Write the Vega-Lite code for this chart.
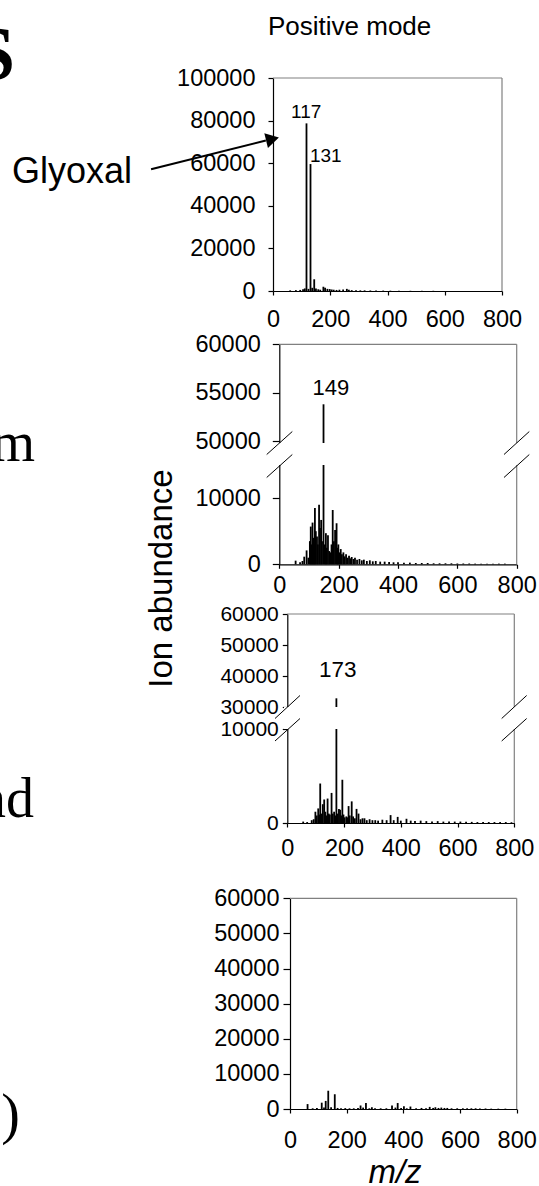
{
  "$schema": "https://vega.github.io/schema/vega-lite/v6.json",
  "width": 539,
  "height": 1186,
  "autosize": "none",
  "padding": 0,
  "background": "white",
  "config": {
    "view": {"stroke": null},
    "axis": {
      "domainColor": "black", "tickColor": "black", "labelColor": "black",
      "labelFont": "Liberation Sans", "labelFontSize": 23.5, "grid": false,
      "labelFlush": false, "labelOverlap": false, "domainWidth": 1.2, "tickWidth": 1.2,
      "zindex": 0, "title": null
    }
  },
  "datasets": {
    "p1": [
      {"mz": 60, "ab": 300}, {"mz": 80, "ab": 400}, {"mz": 95, "ab": 500}, {"mz": 105, "ab": 800},
      {"mz": 111, "ab": 1200}, {"mz": 117, "ab": 78700}, {"mz": 124, "ab": 1000}, {"mz": 131, "ab": 59600},
      {"mz": 137, "ab": 1500}, {"mz": 144, "ab": 5500}, {"mz": 150, "ab": 1200}, {"mz": 158, "ab": 800},
      {"mz": 165, "ab": 600}, {"mz": 176, "ab": 2000}, {"mz": 182, "ab": 1500}, {"mz": 190, "ab": 1000},
      {"mz": 198, "ab": 900}, {"mz": 205, "ab": 700}, {"mz": 212, "ab": 600}, {"mz": 222, "ab": 500},
      {"mz": 232, "ab": 600}, {"mz": 245, "ab": 700}, {"mz": 258, "ab": 1000}, {"mz": 265, "ab": 600},
      {"mz": 275, "ab": 400}, {"mz": 290, "ab": 400}, {"mz": 305, "ab": 300}, {"mz": 320, "ab": 300},
      {"mz": 340, "ab": 250}, {"mz": 360, "ab": 200}, {"mz": 385, "ab": 200}, {"mz": 410, "ab": 150},
      {"mz": 440, "ab": 150}, {"mz": 480, "ab": 100}, {"mz": 520, "ab": 100}, {"mz": 560, "ab": 100}
    ],
    "p2": [
      {"mz": 55, "ab": 550}, {"mz": 70, "ab": 300}, {"mz": 78, "ab": 500}, {"mz": 84, "ab": 1150},
      {"mz": 92, "ab": 2100}, {"mz": 98, "ab": 1000}, {"mz": 103, "ab": 3500}, {"mz": 106, "ab": 5700},
      {"mz": 109, "ab": 3000}, {"mz": 112, "ab": 6300}, {"mz": 115, "ab": 4000}, {"mz": 118, "ab": 3000},
      {"mz": 120, "ab": 8500}, {"mz": 123, "ab": 5000}, {"mz": 127, "ab": 4200}, {"mz": 130, "ab": 3000},
      {"mz": 134, "ab": 9000}, {"mz": 137, "ab": 5500}, {"mz": 141, "ab": 6700}, {"mz": 144, "ab": 3500},
      {"mz": 149, "ab": 53800}, {"mz": 153, "ab": 3000}, {"mz": 157, "ab": 4700}, {"mz": 160, "ab": 2500},
      {"mz": 164, "ab": 4400}, {"mz": 168, "ab": 2000}, {"mz": 172, "ab": 1800}, {"mz": 176, "ab": 3000},
      {"mz": 180, "ab": 8200}, {"mz": 184, "ab": 3500}, {"mz": 188, "ab": 5200}, {"mz": 193, "ab": 6200},
      {"mz": 196, "ab": 2500}, {"mz": 199, "ab": 3000}, {"mz": 203, "ab": 1800}, {"mz": 207, "ab": 2300},
      {"mz": 211, "ab": 1500}, {"mz": 216, "ab": 1800}, {"mz": 220, "ab": 1200}, {"mz": 225, "ab": 1500},
      {"mz": 230, "ab": 1000}, {"mz": 235, "ab": 1300}, {"mz": 240, "ab": 900}, {"mz": 244, "ab": 1100},
      {"mz": 250, "ab": 800}, {"mz": 255, "ab": 1000}, {"mz": 262, "ab": 700}, {"mz": 270, "ab": 800},
      {"mz": 278, "ab": 600}, {"mz": 285, "ab": 700}, {"mz": 295, "ab": 500}, {"mz": 305, "ab": 600},
      {"mz": 315, "ab": 450}, {"mz": 325, "ab": 500}, {"mz": 340, "ab": 400}, {"mz": 355, "ab": 400},
      {"mz": 370, "ab": 350}, {"mz": 385, "ab": 300}, {"mz": 400, "ab": 300}, {"mz": 420, "ab": 250},
      {"mz": 440, "ab": 250}, {"mz": 460, "ab": 200}, {"mz": 480, "ab": 200}, {"mz": 500, "ab": 200},
      {"mz": 520, "ab": 150}, {"mz": 540, "ab": 150}, {"mz": 560, "ab": 150}, {"mz": 580, "ab": 150},
      {"mz": 600, "ab": 120}, {"mz": 620, "ab": 120}, {"mz": 640, "ab": 120}, {"mz": 660, "ab": 100},
      {"mz": 680, "ab": 100}, {"mz": 700, "ab": 100}, {"mz": 720, "ab": 100}, {"mz": 740, "ab": 100},
      {"mz": 760, "ab": 100}
    ],
    "p3": [
      {"mz": 56, "ab": 150}, {"mz": 70, "ab": 100}, {"mz": 86, "ab": 300}, {"mz": 93, "ab": 400},
      {"mz": 99, "ab": 1200}, {"mz": 104, "ab": 800}, {"mz": 109, "ab": 1550}, {"mz": 113, "ab": 900},
      {"mz": 116, "ab": 4200}, {"mz": 120, "ab": 1000}, {"mz": 125, "ab": 2000}, {"mz": 130, "ab": 2500},
      {"mz": 134, "ab": 1200}, {"mz": 138, "ab": 800}, {"mz": 142, "ab": 2600}, {"mz": 146, "ab": 1000},
      {"mz": 150, "ab": 900}, {"mz": 156, "ab": 3200}, {"mz": 160, "ab": 1000}, {"mz": 165, "ab": 1200},
      {"mz": 169, "ab": 800}, {"mz": 173, "ab": 32800}, {"mz": 177, "ab": 1000}, {"mz": 182, "ab": 1500},
      {"mz": 186, "ab": 1400}, {"mz": 190, "ab": 800}, {"mz": 194, "ab": 4600}, {"mz": 198, "ab": 900},
      {"mz": 202, "ab": 600}, {"mz": 208, "ab": 700}, {"mz": 212, "ab": 600}, {"mz": 216, "ab": 1800},
      {"mz": 220, "ab": 800}, {"mz": 227, "ab": 2300}, {"mz": 232, "ab": 700}, {"mz": 238, "ab": 500},
      {"mz": 244, "ab": 1500}, {"mz": 251, "ab": 1000}, {"mz": 258, "ab": 400}, {"mz": 265, "ab": 500},
      {"mz": 272, "ab": 500}, {"mz": 280, "ab": 300}, {"mz": 290, "ab": 400}, {"mz": 300, "ab": 300},
      {"mz": 310, "ab": 300}, {"mz": 320, "ab": 250}, {"mz": 335, "ab": 350}, {"mz": 350, "ab": 300},
      {"mz": 364, "ab": 840}, {"mz": 375, "ab": 300}, {"mz": 389, "ab": 650}, {"mz": 400, "ab": 250},
      {"mz": 420, "ab": 450}, {"mz": 435, "ab": 250}, {"mz": 450, "ab": 200}, {"mz": 470, "ab": 250},
      {"mz": 490, "ab": 200}, {"mz": 510, "ab": 150}, {"mz": 530, "ab": 200}, {"mz": 550, "ab": 150},
      {"mz": 570, "ab": 150}, {"mz": 590, "ab": 150}, {"mz": 610, "ab": 150}, {"mz": 630, "ab": 120},
      {"mz": 650, "ab": 120}, {"mz": 670, "ab": 100}, {"mz": 690, "ab": 100}, {"mz": 710, "ab": 100},
      {"mz": 730, "ab": 100}, {"mz": 750, "ab": 100}, {"mz": 770, "ab": 100}, {"mz": 790, "ab": 80}
    ],
    "p4": [
      {"mz": 62, "ab": 1400}, {"mz": 80, "ab": 200}, {"mz": 95, "ab": 300}, {"mz": 112, "ab": 1800},
      {"mz": 120, "ab": 400}, {"mz": 126, "ab": 2300}, {"mz": 135, "ab": 5200}, {"mz": 145, "ab": 500},
      {"mz": 158, "ab": 4200}, {"mz": 168, "ab": 300}, {"mz": 180, "ab": 200}, {"mz": 195, "ab": 250},
      {"mz": 210, "ab": 200}, {"mz": 225, "ab": 200}, {"mz": 240, "ab": 300}, {"mz": 249, "ab": 1000},
      {"mz": 258, "ab": 400}, {"mz": 268, "ab": 1700}, {"mz": 280, "ab": 200}, {"mz": 289, "ab": 500},
      {"mz": 300, "ab": 200}, {"mz": 320, "ab": 200}, {"mz": 340, "ab": 200}, {"mz": 360, "ab": 1000},
      {"mz": 372, "ab": 400}, {"mz": 380, "ab": 1700}, {"mz": 392, "ab": 300}, {"mz": 402, "ab": 800},
      {"mz": 412, "ab": 200}, {"mz": 425, "ab": 700}, {"mz": 445, "ab": 200}, {"mz": 464, "ab": 300},
      {"mz": 480, "ab": 200}, {"mz": 493, "ab": 600}, {"mz": 505, "ab": 300}, {"mz": 513, "ab": 500},
      {"mz": 524, "ab": 300}, {"mz": 534, "ab": 400}, {"mz": 545, "ab": 300}, {"mz": 555, "ab": 300},
      {"mz": 570, "ab": 200}, {"mz": 590, "ab": 200}, {"mz": 610, "ab": 200}, {"mz": 625, "ab": 200},
      {"mz": 640, "ab": 200}, {"mz": 655, "ab": 200}, {"mz": 670, "ab": 150}, {"mz": 690, "ab": 150},
      {"mz": 710, "ab": 100}, {"mz": 735, "ab": 100}, {"mz": 760, "ab": 100}
    ]
  },
  "layer": [
    {
      "data": {"name": "p1"},
      "layer": [
        {
          "mark": {"type": "rule", "color": "black", "strokeWidth": 1.8},
          "encoding": {
            "x": {"field": "mz", "type": "quantitative",
              "scale": {"domain": [0, 800], "range": [273, 502], "nice": false, "zero": false},
              "axis": {"orient": "bottom", "offset": -895, "values": [0, 200, 400, 600, 800], "format": "d", "tickSize": 4, "labelPadding": 12, "title": null}},
            "y": {"field": "ab", "type": "quantitative",
              "scale": {"domain": [0, 100000], "range": [291, 78], "nice": false, "zero": false},
              "axis": {"orient": "left", "offset": -273, "values": [0, 20000, 40000, 60000, 80000, 100000], "format": "d", "tickSize": 5, "labelPadding": 13, "title": null}},
            "y2": {"datum": 0}
          }
        },
        {"data": {"values": [{}]}, "mark": {"type": "rule", "color": "#808080", "strokeWidth": 1.2},
         "encoding": {"x": {"datum": 0}, "x2": {"datum": 800}, "y": {"datum": 100000}}},
        {"data": {"values": [{}]}, "mark": {"type": "rule", "color": "#808080", "strokeWidth": 1.2},
         "encoding": {"x": {"datum": 800}, "y": {"datum": 0}, "y2": {"datum": 100000}}},
        {"data": {"values": [{}]}, "mark": {"type": "text", "font": "Liberation Sans", "fontSize": 19, "align": "center", "baseline": "alphabetic", "color": "black"},
         "encoding": {"x": {"datum": 116}, "y": {"datum": 81080}, "text": {"value": "117"}}},
        {"data": {"values": [{}]}, "mark": {"type": "text", "font": "Liberation Sans", "fontSize": 19, "align": "left", "baseline": "alphabetic", "color": "black"},
         "encoding": {"x": {"datum": 129}, "y": {"datum": 60700}, "text": {"value": "131"}}},
        {"data": {"values": [{}]}, "mark": {"type": "text", "font": "Liberation Sans", "fontSize": 26, "align": "left", "baseline": "alphabetic", "color": "black"},
         "encoding": {"x": {"datum": -17.5}, "y": {"datum": 120000}, "text": {"value": "Positive mode"}}},
        {"data": {"values": [{}]}, "mark": {"type": "text", "font": "Liberation Sans", "fontSize": 36, "align": "left", "baseline": "alphabetic", "color": "black"},
         "encoding": {"x": {"datum": -912}, "y": {"datum": 50566}, "text": {"value": "Glyoxal"}}},
        {"data": {"values": [{}]}, "mark": {"type": "rule", "color": "black", "strokeWidth": 2},
         "encoding": {"x": {"datum": -426}, "y": {"datum": 57140}, "x2": {"datum": -25}, "y2": {"datum": 70660}}},
        {"data": {"values": [{}]}, "mark": {"type": "point", "shape": "triangle-right", "filled": true, "color": "black", "size": 230, "angle": 346.2, "opacity": 1},
         "encoding": {"x": {"datum": -1.7}, "y": {"datum": 71318}}},
        {"data": {"values": [{}]}, "mark": {"type": "text", "font": "Liberation Serif", "fontWeight": "bold", "fontSize": 76, "align": "right", "baseline": "alphabetic", "color": "black", "clip": true},
         "encoding": {"x": {"datum": -901}, "y": {"datum": 99534}, "text": {"value": "S"}}}
      ]
    },
    {
      "data": {"name": "p2"},
      "layer": [
        {
          "mark": {"type": "rule", "color": "black", "strokeWidth": 1.8},
          "encoding": {
            "x": {"field": "mz", "type": "quantitative",
              "scale": {"domain": [0, 800], "range": [279.3, 516.7], "nice": false, "zero": false},
              "axis": {"orient": "bottom", "offset": -621.7, "values": [0, 200, 400, 600, 800], "format": "d", "tickSize": 4, "labelPadding": 5, "title": null}},
            "y": {"field": "ab", "type": "quantitative",
              "scale": {"domain": [0, 15000, 49800, 60000], "range": [564.3, 465, 443, 344.3], "nice": false, "zero": false},
              "axis": {"orient": "left", "offset": -279.3, "values": [0, 10000, 50000, 55000, 60000], "format": "d", "tickSize": 7, "labelPadding": 12, "title": null}},
            "y2": {"datum": 0}
          }
        },
        {"data": {"values": [{}]}, "mark": {"type": "rule", "color": "#808080", "strokeWidth": 1.2},
         "encoding": {"x": {"datum": 0}, "x2": {"datum": 800}, "y": {"datum": 60000}}},
        {"data": {"values": [{}]}, "mark": {"type": "rule", "color": "#808080", "strokeWidth": 1.2},
         "encoding": {"x": {"datum": 800}, "y": {"datum": 0}, "y2": {"datum": 60000}}},
        {"data": {"values": [{}]}, "mark": {"type": "rect", "color": "white"},
         "encoding": {"x": {"datum": -11}, "x2": {"datum": 811}, "y": {"datum": 15000}, "y2": {"datum": 49800}}},
        {"data": {"values": [{}]}, "mark": {"type": "rule", "color": "black", "strokeWidth": 1},
         "encoding": {"x": {"datum": -42.5}, "y": {"datum": 31609}, "x2": {"datum": 43.8}, "y2": {"datum": 50988}}},
        {"data": {"values": [{}]}, "mark": {"type": "rule", "color": "black", "strokeWidth": 1},
         "encoding": {"x": {"datum": -42.5}, "y": {"datum": 13112}, "x2": {"datum": 43.8}, "y2": {"datum": 31609}}},
        {"data": {"values": [{}]}, "mark": {"type": "rule", "color": "black", "strokeWidth": 1},
         "encoding": {"x": {"datum": 757.2}, "y": {"datum": 31609}, "x2": {"datum": 842.5}, "y2": {"datum": 50988}}},
        {"data": {"values": [{}]}, "mark": {"type": "rule", "color": "black", "strokeWidth": 1},
         "encoding": {"x": {"datum": 757.2}, "y": {"datum": 13112}, "x2": {"datum": 842.5}, "y2": {"datum": 31609}}},
        {"data": {"values": [{}]}, "mark": {"type": "text", "font": "Liberation Sans", "fontSize": 22, "align": "center", "baseline": "alphabetic", "color": "black"},
         "encoding": {"x": {"datum": 173.6}, "y": {"datum": 54760}, "text": {"value": "149"}}},
        {"data": {"values": [{}]}, "mark": {"type": "text", "font": "Liberation Serif", "fontSize": 56, "align": "right", "baseline": "alphabetic", "color": "black", "clip": true},
         "encoding": {"x": {"datum": -823}, "y": {"datum": 21327}, "text": {"value": "m"}}},
        {"data": {"values": [{}]}, "mark": {"type": "text", "font": "Liberation Sans", "fontSize": 33, "align": "center", "baseline": "alphabetic", "angle": 270, "color": "black"},
         "encoding": {"x": {"datum": -361.6}, "y": {"datum": -2145}, "text": {"value": "Ion abundance"}}}
      ]
    },
    {
      "data": {"name": "p3"},
      "layer": [
        {
          "mark": {"type": "rule", "color": "black", "strokeWidth": 1.8},
          "encoding": {
            "x": {"field": "mz", "type": "quantitative",
              "scale": {"domain": [0, 800], "range": [287.3, 514.3], "nice": false, "zero": false},
              "axis": {"orient": "bottom", "offset": -363, "values": [0, 200, 400, 600, 800], "format": "d", "tickSize": 4, "labelPadding": 9, "title": null}},
            "y": {"field": "ab", "type": "quantitative",
              "scale": {"domain": [0, 10000, 30000, 60000], "range": [823, 729, 707, 614], "nice": false, "zero": false},
              "axis": {"orient": "left", "offset": -287.3, "values": [0, 10000, 30000, 40000, 50000, 60000], "format": "d", "tickSize": 5, "labelPadding": 4, "labelFontSize": 21, "title": null}},
            "y2": {"datum": 0}
          }
        },
        {"data": {"values": [{}]}, "mark": {"type": "rule", "color": "#808080", "strokeWidth": 1.2},
         "encoding": {"x": {"datum": 0}, "x2": {"datum": 800}, "y": {"datum": 60000}}},
        {"data": {"values": [{}]}, "mark": {"type": "rule", "color": "#808080", "strokeWidth": 1.2},
         "encoding": {"x": {"datum": 800}, "y": {"datum": 0}, "y2": {"datum": 60000}}},
        {"data": {"values": [{}]}, "mark": {"type": "rect", "color": "white"},
         "encoding": {"x": {"datum": -11.6}, "x2": {"datum": 811}, "y": {"datum": 10000}, "y2": {"datum": 30000}}},
        {"data": {"values": [{}]}, "mark": {"type": "rule", "color": "black", "strokeWidth": 1},
         "encoding": {"x": {"datum": -43.3}, "y": {"datum": 19545}, "x2": {"datum": 44.8}, "y2": {"datum": 33710}}},
        {"data": {"values": [{}]}, "mark": {"type": "rule", "color": "black", "strokeWidth": 1},
         "encoding": {"x": {"datum": -43.3}, "y": {"datum": 8723}, "x2": {"datum": 44.8}, "y2": {"datum": 19545}}},
        {"data": {"values": [{}]}, "mark": {"type": "rule", "color": "black", "strokeWidth": 1},
         "encoding": {"x": {"datum": 755.5}, "y": {"datum": 19545}, "x2": {"datum": 843.6}, "y2": {"datum": 33710}}},
        {"data": {"values": [{}]}, "mark": {"type": "rule", "color": "black", "strokeWidth": 1},
         "encoding": {"x": {"datum": 755.5}, "y": {"datum": 8723}, "x2": {"datum": 843.6}, "y2": {"datum": 19545}}},
        {"data": {"values": [{}]}, "mark": {"type": "text", "font": "Liberation Sans", "fontSize": 22.5, "align": "center", "baseline": "alphabetic", "color": "black"},
         "encoding": {"x": {"datum": 178}, "y": {"datum": 39775}, "text": {"value": "173"}}},
        {"data": {"values": [{}]}, "mark": {"type": "text", "font": "Liberation Serif", "fontSize": 56, "align": "right", "baseline": "alphabetic", "color": "black", "clip": true},
         "encoding": {"x": {"datum": -892.6}, "y": {"datum": 670}, "text": {"value": "nd"}}}
      ]
    },
    {
      "data": {"name": "p4"},
      "layer": [
        {
          "mark": {"type": "rule", "color": "black", "strokeWidth": 1.8},
          "encoding": {
            "x": {"field": "mz", "type": "quantitative",
              "scale": {"domain": [0, 800], "range": [290, 516.7], "nice": false, "zero": false},
              "axis": {"orient": "bottom", "offset": -77, "values": [0, 200, 400, 600, 800], "format": "d", "tickSize": 4, "labelPadding": 15, "title": null}},
            "y": {"field": "ab", "type": "quantitative",
              "scale": {"domain": [0, 60000], "range": [1109, 898.3], "nice": false, "zero": false},
              "axis": {"orient": "left", "offset": -290, "values": [0, 10000, 20000, 30000, 40000, 50000, 60000], "format": "d", "tickSize": 7, "labelPadding": 4, "title": null}},
            "y2": {"datum": 0}
          }
        },
        {"data": {"values": [{}]}, "mark": {"type": "rule", "color": "#808080", "strokeWidth": 1.2},
         "encoding": {"x": {"datum": 0}, "x2": {"datum": 800}, "y": {"datum": 60000}}},
        {"data": {"values": [{}]}, "mark": {"type": "rule", "color": "#808080", "strokeWidth": 1.2},
         "encoding": {"x": {"datum": 800}, "y": {"datum": 0}, "y2": {"datum": 60000}}},
        {"data": {"values": [{}]}, "mark": {"type": "text", "font": "Liberation Serif", "fontSize": 56, "align": "right", "baseline": "alphabetic", "color": "black", "clip": true},
         "encoding": {"x": {"datum": -952.8}, "y": {"datum": -6838}, "text": {"value": ")"}}},
        {"data": {"values": [{}]}, "mark": {"type": "text", "font": "Liberation Sans", "fontSize": 33, "fontStyle": "italic", "align": "center", "baseline": "alphabetic", "color": "black"},
         "encoding": {"x": {"datum": 370.6}, "y": {"datum": -20940}, "text": {"value": "m/z"}}}
      ]
    }
  ],
  "resolve": {"scale": {"x": "independent", "y": "independent"}, "axis": {"x": "independent", "y": "independent"}}
}
